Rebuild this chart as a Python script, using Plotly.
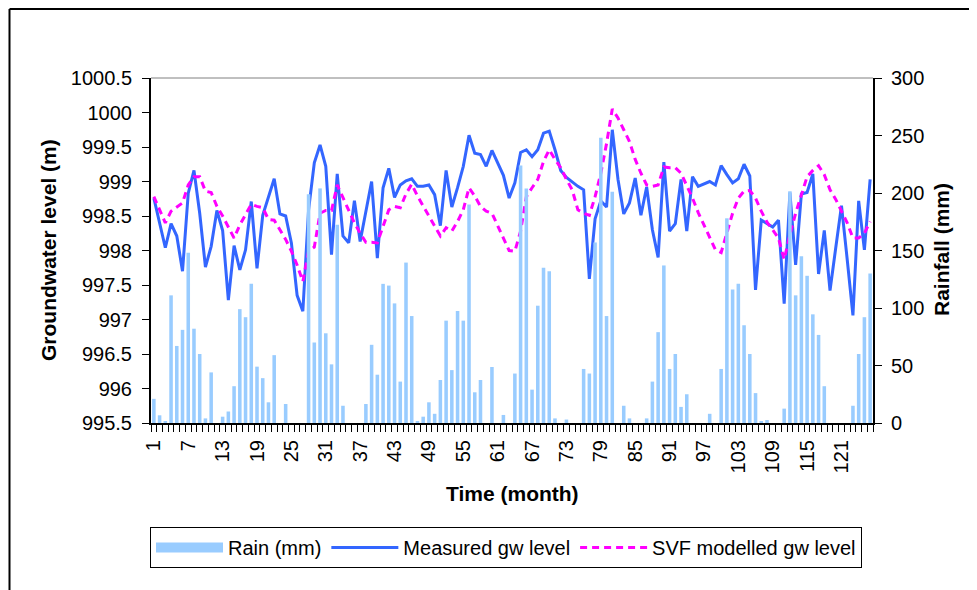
import plotly.graph_objects as go

months = list(range(1, 127))

rain_mm = [21, 6.7, 1.5, 111, 67, 81, 148, 82, 60, 4,
           44, 0, 5.5, 10, 32, 99, 92, 121, 49, 39,
           18, 59, 0, 16.5, 0, 0, 0, 199, 70, 204,
           78, 51, 172.5, 15, 0, 0, 0, 16.5, 68, 42,
           121, 119.5, 104, 36, 139.5, 93, 1.2, 5.5, 18, 8,
           37.4, 89, 46, 97.4, 89, 190, 26.7, 37.4, 0, 48.7,
           0, 7, 0, 43, 224, 204, 29, 102, 135, 132,
           4, 0, 3, 0, 0, 47, 43, 157, 248, 93,
           201, 0, 15, 4, 0, 0, 4, 36, 79, 137,
           47, 60, 14, 25, 0, 0, 0, 8, 0, 47,
           178, 116, 121, 85, 60, 26, 1.5, 2.6, 0, 0,
           12.5, 201.5, 111, 145, 128, 94.5, 76.6, 32, 0, 0,
           0, 0, 15, 60, 92, 130]

measured_gw = [998.76, 998.40, 998.04, 998.39, 998.21, 997.70, 998.83, 999.16, 998.54, 997.76,
               998.06, 998.58, 998.29, 997.28, 998.07, 997.72, 998.01, 998.71, 997.74, 998.51,
               998.76, 999.04, 998.53, 998.50, 998.11, 997.35, 997.12, 998.59, 999.27, 999.53,
               999.22, 997.94, 999.11, 998.21, 998.11, 998.72, 998.13, 998.57, 999.00, 997.89,
               998.91, 999.19, 998.77, 998.95, 999.01, 999.04, 998.93, 998.93, 998.95, 998.81,
               998.36, 999.16, 998.63, 998.91, 999.22, 999.67, 999.41, 999.39, 999.22, 999.45,
               999.27, 999.09, 998.76, 998.98, 999.42, 999.46, 999.36, 999.46, 999.70, 999.73,
               999.46, 999.16, 999.06, 998.99, 998.93, 998.88, 997.59, 998.46, 998.72, 998.63,
               999.75, 999.03, 998.53, 998.69, 999.05, 998.51, 998.92, 998.30, 997.90, 999.28,
               998.28, 998.39, 999.03, 998.28, 999.07, 998.93, 998.97, 999.00, 998.95, 999.23,
               999.10, 998.98, 999.04, 999.25, 999.08, 997.43, 998.44, 998.39, 998.34, 998.44,
               997.23, 998.84, 997.79, 998.82, 998.84, 999.11, 997.66, 998.29, 997.42, 998.04,
               998.65, 997.87, 997.06, 998.72, 998.01, 999.03]

svf_gw = [998.78, 998.59, 998.40, 998.57, 998.63, 998.69, 998.95, 999.07, 999.07, 998.86,
          998.84, 998.64, 998.50, 998.35, 998.18, 998.37, 998.53, 998.67, 998.64, 998.62,
          998.45, 998.44, 998.30, 998.16, 997.99, 997.79, 997.55, 997.99, 998.05, 998.54,
          998.58, 998.58, 998.95, 998.76, 998.59, 998.40, 998.25, 998.12, 998.12, 998.11,
          998.35, 998.59, 998.64, 998.62, 998.82, 998.96, 998.79, 998.64, 998.50, 998.35,
          998.21, 998.33, 998.28, 998.42, 998.59, 998.91, 998.79, 998.64, 998.57, 998.54,
          998.37, 998.18, 998.00, 997.99, 998.28, 998.78, 998.91, 999.03, 999.29, 999.46,
          999.32, 999.20, 999.03, 998.88, 998.59, 998.54, 998.51, 998.78, 999.12, 999.55,
          1000.05, 999.92, 999.75, 999.58, 999.32, 999.12, 998.95, 998.93, 998.95, 999.21,
          999.20, 999.20, 999.12, 998.95, 998.76, 998.55, 998.37, 998.18, 998.01, 997.97,
          998.26, 998.54, 998.76, 998.86, 998.87, 998.76, 998.57, 998.41, 998.30, 998.18,
          997.87, 998.23, 998.54, 998.81, 999.07, 999.16, 999.23, 999.10, 998.88, 998.74,
          998.57, 998.40, 998.18, 998.18, 998.25, 998.42]

x_tick_vals = list(range(1, 127, 6))
x_tick_text = [str(v) for v in x_tick_vals]
gw_tick_vals = [995.5 + 0.5 * i for i in range(11)]
gw_tick_text = ["995.5", "996", "996.5", "997", "997.5", "998", "998.5", "999", "999.5", "1000", "1000.5"]
rain_tick_vals = [0, 50, 100, 150, 200, 250, 300]

FONT = "Liberation Sans, Arial, sans-serif"
BAR_C = "#99CCFF"
BLUE = "#3366FF"
MAG = "#FF00FF"

fig = go.Figure()

fig.add_trace(go.Bar(x=months, y=rain_mm, yaxis="y2", marker=dict(color=BAR_C, line=dict(width=0)),
                     width=0.62, name="Rain (mm)", showlegend=False))
# legend proxy for the rain bars (wide rectangle like the original)
fig.add_trace(go.Scatter(x=[None], y=[None], mode="lines", line=dict(color=BAR_C, width=16),
                         name="Rain (mm)", legendrank=1))
fig.add_trace(go.Scatter(x=months, y=measured_gw, mode="lines", line=dict(color=BLUE, width=3),
                         name="Measured gw level", legendrank=2))
fig.add_trace(go.Scatter(x=months, y=svf_gw, mode="lines", line=dict(color=MAG, width=3, dash="7px,5px"),
                         name="SVF modelled gw level", legendrank=3))

# page offset: the html body adds an 8 px margin around the figure
OFF = 8
L, R, T, B = 151, 873, 78, 423   # plot area in page pixels
W, H = 977, 590
pw, ph = R - L, B - T


def px(xp):
    return (xp - L) / pw


def py(yp):
    return (B - yp) / ph


fig.update_layout(
    width=W, height=H,
    margin=dict(l=L - OFF, r=W - R + OFF, t=T - OFF, b=H - B + OFF),
    paper_bgcolor="white", plot_bgcolor="white",
    font=dict(family=FONT, size=20, color="black"),
    showlegend=True,
    legend=dict(orientation="h", x=px(150), y=py(527), xanchor="left", yanchor="top",
                bordercolor="black", borderwidth=1, bgcolor="white",
                font=dict(family=FONT, size=20, color="black"), itemwidth=67,
                traceorder="normal"),
    xaxis=dict(range=[0.5, 126.5], tickmode="array", tickvals=x_tick_vals, ticktext=x_tick_text,
               tickangle=-90, ticks="outside", ticklen=7, tickcolor="rgba(0,0,0,0)",
               minor=dict(ticks="outside", ticklen=7, tick0=0.5, dtick=1, tickcolor="black", tickwidth=1),
               showline=True, linecolor="black", linewidth=2, showgrid=False, zeroline=False,
               tickfont=dict(family=FONT, size=20)),
    yaxis=dict(range=[995.5, 1000.5], tickmode="array", tickvals=gw_tick_vals, ticktext=gw_tick_text,
               ticks="outside", ticklen=7, tickwidth=1, tickcolor="black",
               showline=True, linecolor="black", linewidth=2, showgrid=False, zeroline=False,
               tickfont=dict(family=FONT, size=20), ticklabelstandoff=6),
    yaxis2=dict(range=[0, 300], overlaying="y", side="right", tickmode="array", tickvals=rain_tick_vals,
                ticks="outside", ticklen=7, tickwidth=1, tickcolor="black",
                showline=True, linecolor="black", linewidth=2, showgrid=False, zeroline=False,
                tickfont=dict(family=FONT, size=20), ticklabelstandoff=5),
    shapes=[
        dict(type="line", xref="paper", yref="paper", x0=0, x1=1, y0=1, y1=1,
             line=dict(color="#808080", width=1)),
        dict(type="line", xref="paper", yref="paper", x0=px(9.5), x1=px(9.5), y0=py(9), y1=py(600),
             line=dict(color="black", width=2)),
        dict(type="line", xref="paper", yref="paper", x0=px(9.5), x1=px(990), y0=py(9), y1=py(9),
             line=dict(color="black", width=2)),
    ],
    annotations=[
        dict(text="<b>Time (month)</b>", xref="paper", yref="paper", x=px(512), y=py(493),
             xanchor="center", yanchor="middle", showarrow=False, font=dict(family=FONT, size=21)),
        dict(text="<b>Groundwater level (m)</b>", xref="paper", yref="paper", x=px(48), y=py(250),
             xanchor="center", yanchor="middle", textangle=-90, showarrow=False,
             font=dict(family=FONT, size=21)),
        dict(text="<b>Rainfall (mm)</b>", xref="paper", yref="paper", x=px(941), y=py(250),
             xanchor="center", yanchor="middle", textangle=-90, showarrow=False,
             font=dict(family=FONT, size=21)),
    ],
)

fig.write_html("out.html")
